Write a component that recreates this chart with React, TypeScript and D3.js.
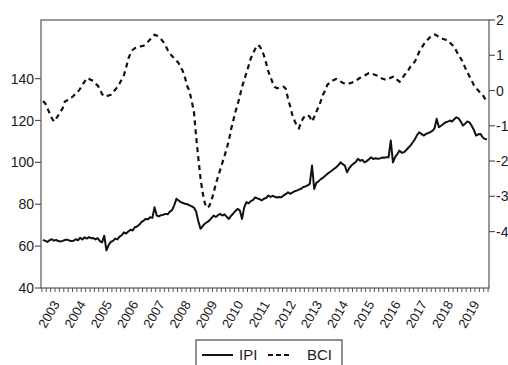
import React from 'react'
import * as d3 from 'd3'

// monthly data, 2003M01 - 2019M12
const years = d3.range(2003, 2020)

const ipi = [
  63, 62.5, 62, 62.8, 63.3, 62.6, 63, 62.4, 62.2, 62.5, 62.9, 63.1,
  62.7, 62.4, 62.6, 63.3, 62.8, 64, 63.2, 64.2, 63.6, 64.3, 63.8, 63.9,
  63.2, 63.8, 62.4, 61.8, 65, 58, 60.5, 62, 62.5, 63.6, 63.2, 64.5,
  65.2, 66.6, 66, 67, 67.8, 67.5, 69, 69.4, 70.2, 71.5, 72.2, 73,
  72.8, 73.8, 73.5, 78.6, 74.6, 74.2, 74.8, 75, 75.4, 75.2, 76.5, 77.2,
  79.5, 82.6, 81.8, 81, 80.6, 80.2, 80, 79.5, 79, 78.4, 76.5, 72,
  68.3, 69.5, 70.8, 71.4, 72.2, 73.4, 74.6, 73.9, 74.8, 75.4, 74.6, 75.2,
  74, 73, 74.5, 75.6, 76.8, 77.8, 77, 73, 78.5, 81, 80.4, 81.5,
  82, 83.3, 82.8, 82.4, 81.8, 82.6, 83, 84.2, 83.5, 84, 83.6, 83.2,
  83.5, 83.3, 84.2, 84.8, 85.7, 85, 85.6, 86.2, 86.5, 87, 87.4, 88.2,
  88.5, 89, 89.8, 98.5, 87.3, 90.2, 91, 92, 92.6, 93.6, 94.5, 95.3,
  96, 96.8, 97.6, 98.6, 100, 99.2, 98.5, 95.3, 97.2, 98.5, 99.4, 100.2,
  101.7, 100.8, 101.2, 100, 100.6, 101.5, 102.4, 101.6, 102, 101.7, 101.9, 102.3,
  102.2, 102.5, 102.4, 110.4, 100, 102.5, 104, 105.6, 104.6, 104.8, 105.8, 107,
  108, 109.5, 111, 113, 114.4, 113.6, 112.8, 113.5, 114, 114.4, 115, 116.2,
  120.8, 116.8, 117.5, 118.3, 119.1, 119.4, 120, 119.5, 120.6, 121.5, 121, 119.5,
  117.6, 118.5, 119.5, 119.1, 117.5, 115.5, 112.8, 113.4, 113.6, 112, 111.2, 111,
]

const bci = [
  -0.3, -0.36, -0.5, -0.64, -0.78, -0.88, -0.8, -0.7, -0.6, -0.5, -0.31, -0.28,
  -0.22, -0.2, -0.15, -0.08, -0.03, 0.05, 0.16, 0.25, 0.35, 0.33, 0.3, 0.27,
  0.2, 0.14, 0.05, -0.1, -0.17, -0.16, -0.14, -0.12, -0.05, 0.02, 0.1, 0.2,
  0.32, 0.44, 0.65, 0.9, 1.05, 1.15, 1.2, 1.22, 1.24, 1.26, 1.27, 1.32,
  1.38, 1.45, 1.5, 1.58, 1.56, 1.5, 1.45, 1.38, 1.28, 1.15, 1.05, 0.98,
  0.91, 0.85, 0.78, 0.65, 0.54, 0.35, 0.12, -0.03, -0.3, -0.6, -1.3, -1.9,
  -2.48, -2.9, -3.2, -3.33, -3.28, -3.12, -2.9, -2.65, -2.45, -2.25, -2.05, -1.85,
  -1.65, -1.4, -1.1, -0.85, -0.6, -0.4, -0.15, 0.1, 0.3, 0.5, 0.7, 0.91,
  1.05, 1.18, 1.29, 1.26, 1.15, 1.0, 0.78, 0.55, 0.38, 0.22, 0.1, 0.06,
  0.08, 0.1, 0.11, 0.05, -0.22, -0.45, -0.69, -0.85, -1.0, -1.07, -0.9, -0.78,
  -0.72, -0.69, -0.75, -0.88, -0.75, -0.6, -0.46, -0.3, -0.12, 0.0, 0.16, 0.22,
  0.27, 0.3, 0.33, 0.3, 0.26, 0.22, 0.2, 0.18, 0.2, 0.22, 0.24, 0.28,
  0.32, 0.36, 0.39, 0.42, 0.46, 0.49, 0.48, 0.46, 0.44, 0.42, 0.38, 0.34,
  0.32, 0.3, 0.33, 0.36, 0.39, 0.38, 0.3, 0.25, 0.32, 0.42, 0.49, 0.58,
  0.68, 0.75, 0.82, 0.95, 1.1, 1.2, 1.3, 1.39, 1.45, 1.52, 1.57, 1.59,
  1.56, 1.52, 1.48, 1.46, 1.44, 1.43, 1.36, 1.3, 1.24, 1.12, 1.0, 0.91,
  0.8, 0.65, 0.52, 0.4, 0.28, 0.15, 0.07, 0.0, -0.07, -0.12, -0.22, -0.31,
]

const leftTicks = [40, 60, 80, 100, 120, 140]
const rightTicks = [2, 1, 0, -1, -2, -3, -4]

const layout = {width: 508, height: 365, left: 41, right: 489, top: 20, bottom: 288}
const font = '"Liberation Sans", Arial, sans-serif'
const ink = '#1a1a1a'
const frame = '#555'

export default function App() {
  const x = d3.scaleLinear().domain([0, ipi.length - 1]).range([43, 487])
  const yL = d3.scaleLinear().domain([40, 168]).range([layout.bottom, layout.top])
  const yR = d3.scaleLinear().domain([-5.6, 2]).range([layout.bottom, layout.top])

  const ipiLine = d3.line<number>().x((d, i) => x(i)).y(d => yL(d))
  const bciLine = d3.line<number>().x((d, i) => x(i)).y(d => yR(d))

  // bimonthly minor ticks on the date axis
  const dateTicks = d3.range(0, ipi.length + 1, 2)

  return (
    <svg width={layout.width} height={layout.height}
      style={{position: 'absolute', left: 0, top: 0, background: '#fff'}}
      fontFamily={font}>
      <rect x={0} y={0} width={layout.width} height={layout.height} fill="#fff" />

      {/* frame */}
      <rect x={layout.left} y={layout.top} width={layout.right - layout.left}
        height={layout.bottom - layout.top} fill="none" stroke={frame} strokeWidth={1.2} />

      {/* left axis */}
      <g>
        {leftTicks.map(t => (
          <g key={t}>
            <line x1={layout.left - 6} x2={layout.left} y1={yL(t)} y2={yL(t)} stroke={frame} strokeWidth={1.2} />
            <text x={layout.left - 7} y={yL(t)} dy="0.36em" textAnchor="end" fontSize={14} fill={ink}>{t}</text>
          </g>
        ))}
      </g>

      {/* right axis */}
      <g>
        {rightTicks.map(t => (
          <g key={t}>
            <line x1={layout.right} x2={layout.right + 6} y1={yR(t)} y2={yR(t)} stroke={frame} strokeWidth={1.2} />
            <text x={layout.right + 7} y={yR(t)} dy="0.36em" textAnchor="start" fontSize={14} fill={ink}>{t}</text>
          </g>
        ))}
      </g>

      {/* bottom axis */}
      <g>
        {dateTicks.map(i => (
          <line key={i} x1={x(i - 0.5)} x2={x(i - 0.5)} y1={layout.bottom} y2={layout.bottom + 4}
            stroke={frame} strokeWidth={1} />
        ))}
        {years.map((yr, k) => {
          const mx = x(k * 12 + 5.5) + 5
          return (
            <text key={yr} transform={`translate(${mx},${layout.bottom + 16}) rotate(-60)`}
              textAnchor="end" fontSize={13} fill={ink}>{yr}</text>
          )
        })}
      </g>

      {/* series */}
      <path d={bciLine(bci) || ''} fill="none" stroke="#111" strokeWidth={2.2} strokeDasharray="5,4" />
      <path d={ipiLine(ipi) || ''} fill="none" stroke="#111" strokeWidth={2} strokeLinejoin="round" />

      {/* legend */}
      <g>
        <rect x={196} y={340} width={146} height={40} fill="#fff" stroke="#222" strokeWidth={1} />
        <line x1={202} x2={233} y1={355} y2={355} stroke="#111" strokeWidth={2} />
        <text x={239} y={355} dy="0.36em" fontSize={15} fill={ink}>IPI</text>
        <line x1={268} x2={289} y1={355} y2={355} stroke="#111" strokeWidth={2} strokeDasharray="5,3" />
        <text x={307} y={355} dy="0.36em" fontSize={15} fill={ink}>BCI</text>
      </g>
    </svg>
  )
}
